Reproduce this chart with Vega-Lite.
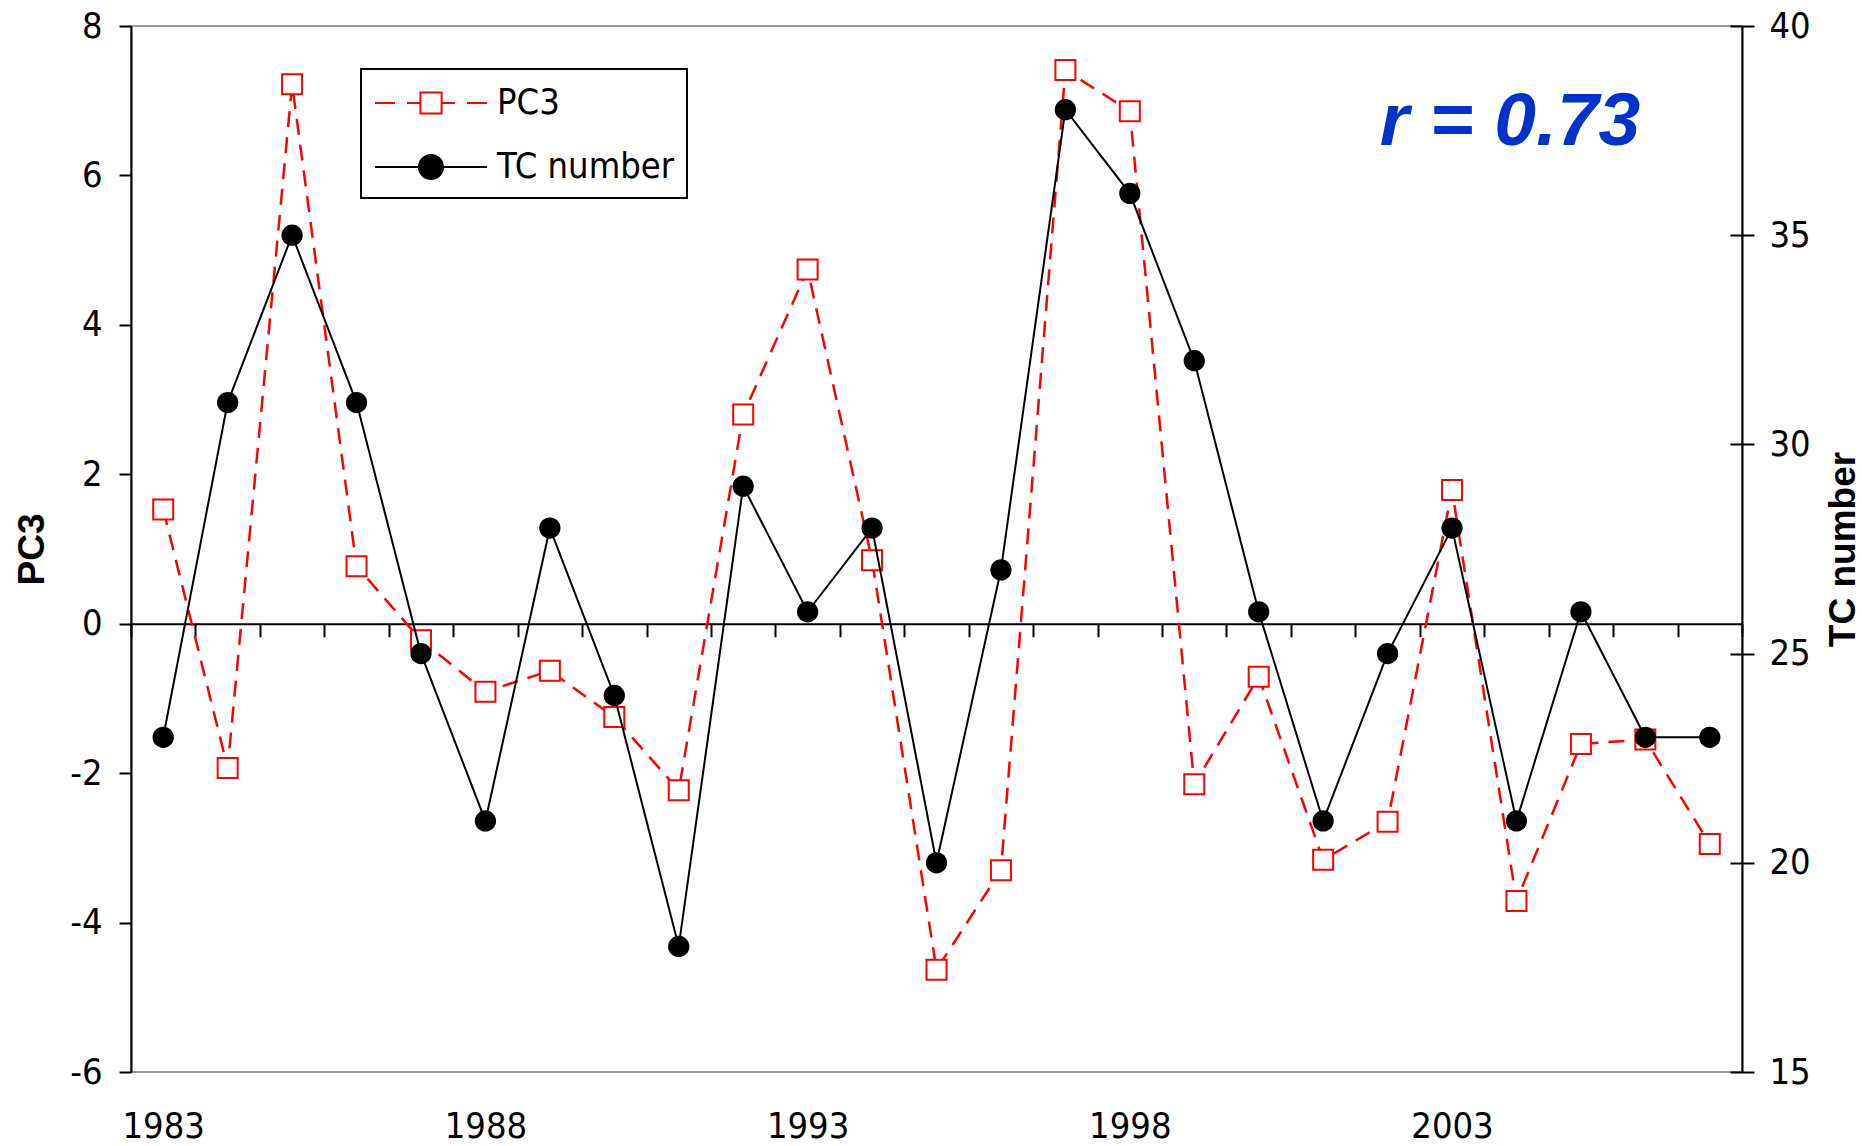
{
  "$schema": "https://vega.github.io/schema/vega-lite/v6.json",
  "autosize": {"type": "none"},
  "padding": {"left": 131, "top": 26, "right": 120, "bottom": 74},
  "width": 1611,
  "height": 1046,
  "background": "white",
  "config": {
    "view": {"stroke": "#999999", "strokeWidth": 2},
    "font": "Liberation Sans",
    "axis": {
      "labelFont": "Liberation Sans Narrow, DejaVu Sans Condensed, Liberation Sans",
      "labelFontSize": 36,
      "labelColor": "black",
      "domainColor": "black",
      "domainWidth": 2,
      "tickColor": "black",
      "tickWidth": 2,
      "grid": false,
      "titleFont": "Liberation Sans",
      "titleFontWeight": "bold",
      "titleFontSize": 37,
      "titleColor": "black"
    },
    "legend": {"strokeWidth": 2}
  },
  "data": {
    "values": [
      {"year": 1983, "PC3": 1.53, "TC number": 23},
      {"year": 1984, "PC3": -1.93, "TC number": 31},
      {"year": 1985, "PC3": 7.22, "TC number": 35},
      {"year": 1986, "PC3": 0.77, "TC number": 31},
      {"year": 1987, "PC3": -0.22, "TC number": 25},
      {"year": 1988, "PC3": -0.91, "TC number": 21},
      {"year": 1989, "PC3": -0.63, "TC number": 28},
      {"year": 1990, "PC3": -1.25, "TC number": 24},
      {"year": 1991, "PC3": -2.23, "TC number": 18},
      {"year": 1992, "PC3": 2.8, "TC number": 29},
      {"year": 1993, "PC3": 4.74, "TC number": 26},
      {"year": 1994, "PC3": 0.85, "TC number": 28},
      {"year": 1995, "PC3": -4.63, "TC number": 20},
      {"year": 1996, "PC3": -3.3, "TC number": 27},
      {"year": 1997, "PC3": 7.41, "TC number": 38},
      {"year": 1998, "PC3": 6.86, "TC number": 36},
      {"year": 1999, "PC3": -2.15, "TC number": 32},
      {"year": 2000, "PC3": -0.71, "TC number": 26},
      {"year": 2001, "PC3": -3.16, "TC number": 21},
      {"year": 2002, "PC3": -2.65, "TC number": 25},
      {"year": 2003, "PC3": 1.79, "TC number": 28},
      {"year": 2004, "PC3": -3.71, "TC number": 21},
      {"year": 2005, "PC3": -1.61, "TC number": 26},
      {"year": 2006, "PC3": -1.55, "TC number": 23},
      {"year": 2007, "PC3": -2.95, "TC number": 23}
    ]
  },
  "layer": [
    {
      "mark": {"type": "line", "color": "#FF0000", "strokeWidth": 2.5, "strokeDash": [16, 10]},
      "encoding": {
        "x": {
          "field": "year", "type": "quantitative",
          "scale": {"domain": [1982.5, 2007.5], "nice": false, "zero": false},
          "axis": {
            "orient": "bottom", "title": null, "domain": false, "ticks": false, "tickSize": 0,
            "values": [1983, 1988, 1993, 1998, 2003], "format": "d",
            "labelPadding": 37, "labelBaseline": "top"
          }
        },
        "y": {
          "field": "PC3", "type": "quantitative",
          "scale": {"domain": [-6, 8], "nice": false, "zero": false},
          "axis": {
            "orient": "left", "title": "PC3", "values": [-6, -4, -2, 0, 2, 4, 6, 8],
            "labelExpr": "'' + datum.value", "tickSize": 12, "labelPadding": 17,
            "titlePadding": 18
          }
        }
      }
    },
    {
      "mark": {"type": "point", "shape": "square", "size": 400, "filled": true, "fill": "white", "stroke": "#FF0000", "strokeWidth": 2, "opacity": 1},
      "encoding": {
        "x": {"field": "year", "type": "quantitative", "scale": {"domain": [1982.5, 2007.5], "nice": false, "zero": false}, "axis": null},
        "y": {"field": "PC3", "type": "quantitative", "scale": {"domain": [-6, 8], "nice": false, "zero": false}, "axis": null}
      }
    },
    {
      "transform": [{"fold": ["PC3", "TC number"]}],
      "mark": {"type": "point", "opacity": 0},
      "encoding": {
        "x": {"field": "year", "type": "quantitative", "scale": {"domain": [1982.5, 2007.5], "nice": false, "zero": false}, "axis": null},
        "y": {"field": "PC3", "type": "quantitative", "scale": {"domain": [-6, 8], "nice": false, "zero": false}, "axis": null},
        "shape": {
          "field": "key", "type": "nominal",
          "scale": {
            "domain": ["PC3", "TC number"],
            "range": [
              "M-2.8,0H-1.8M-1.2,0H-0.53M-0.53,-0.53H0.53V0.53H-0.53ZM0.53,0H1.2M1.8,0H2.8",
              "M-2.8,0H2.8M-0.6,0A0.6,0.6,0,1,0,0.6,0A0.6,0.6,0,1,0,-0.6,0Z"
            ]
          },
          "legend": {
            "title": null, "orient": "none", "legendX": 230, "legendY": 43, "direction": "vertical",
            "strokeColor": "black", "fillColor": "white", "padding": 13,
            "labelFont": "Liberation Sans Narrow, DejaVu Sans Condensed, Liberation Sans", "labelFontSize": 36, "labelColor": "black",
            "symbolSize": 1600, "symbolStrokeWidth": 2, "symbolOffset": 36, "labelOffset": 45,
            "rowPadding": 25, "symbolOpacity": 1, "labelLimit": 400
          }
        },
        "fill": {
          "field": "key", "type": "nominal",
          "scale": {"domain": ["PC3", "TC number"], "range": ["white", "black"]},
          "legend": {
            "title": null, "orient": "none", "legendX": 230, "legendY": 43, "direction": "vertical",
            "strokeColor": "black", "fillColor": "white", "padding": 13,
            "labelFont": "Liberation Sans Narrow, DejaVu Sans Condensed, Liberation Sans", "labelFontSize": 36, "labelColor": "black",
            "symbolSize": 1600, "symbolStrokeWidth": 2, "symbolOffset": 36, "labelOffset": 45,
            "rowPadding": 25, "symbolOpacity": 1, "labelLimit": 400
          }
        },
        "stroke": {
          "field": "key", "type": "nominal",
          "scale": {"domain": ["PC3", "TC number"], "range": ["#FF0000", "black"]},
          "legend": {
            "title": null, "orient": "none", "legendX": 230, "legendY": 43, "direction": "vertical",
            "strokeColor": "black", "fillColor": "white", "padding": 13,
            "labelFont": "Liberation Sans Narrow, DejaVu Sans Condensed, Liberation Sans", "labelFontSize": 36, "labelColor": "black",
            "symbolSize": 1600, "symbolStrokeWidth": 2, "symbolOffset": 36, "labelOffset": 45,
            "rowPadding": 25, "symbolOpacity": 1, "labelLimit": 400
          }
        }
      }
    },
    {
      "data": {"values": [{"label": "r = 0.73"}]},
      "mark": {"type": "text", "font": "Liberation Sans", "fontSize": 75, "fontWeight": "bold", "fontStyle": "italic", "color": "#0033CC", "align": "center", "baseline": "alphabetic"},
      "encoding": {
        "x": {"datum": 2003.9, "type": "quantitative", "scale": {"domain": [1982.5, 2007.5], "nice": false, "zero": false}, "axis": null},
        "y": {"datum": 6.41, "type": "quantitative", "scale": {"domain": [-6, 8], "nice": false, "zero": false}, "axis": null},
        "text": {"field": "label"}
      }
    },
    {
      "mark": {"type": "line", "color": "black", "strokeWidth": 2},
      "encoding": {
        "x": {
          "field": "year", "type": "quantitative",
          "scale": {"domain": [1982.5, 2007.5], "nice": false, "zero": false},
          "axis": {
            "orient": "bottom", "title": null, "labels": false, "domain": true, "ticks": true,
            "tickSize": 13, "offset": -448.3,
            "values": [1982.5, 1983.5, 1984.5, 1985.5, 1986.5, 1987.5, 1988.5, 1989.5, 1990.5, 1991.5, 1992.5, 1993.5, 1994.5, 1995.5, 1996.5, 1997.5, 1998.5, 1999.5, 2000.5, 2001.5, 2002.5, 2003.5, 2004.5, 2005.5, 2006.5, 2007.5]
          }
        },
        "y": {
          "field": "TC number", "type": "quantitative",
          "scale": {"domain": [15, 40], "nice": false, "zero": false},
          "axis": {
            "orient": "right", "title": "TC number", "values": [15, 20, 25, 30, 35, 40],
            "tickSize": 12, "labelPadding": 15, "titleAngle": -90, "titleBaseline": "top", "titlePadding": 15
          }
        }
      }
    },
    {
      "mark": {"type": "point", "shape": "circle", "size": 452, "filled": true, "color": "black", "opacity": 1},
      "encoding": {
        "x": {"field": "year", "type": "quantitative", "scale": {"domain": [1982.5, 2007.5], "nice": false, "zero": false}, "axis": null},
        "y": {
          "field": "TC number", "type": "quantitative",
          "scale": {"domain": [15, 40], "nice": false, "zero": false},
          "axis": {
            "orient": "right", "title": null, "labels": false, "domain": false, "ticks": true,
            "tickSize": -12, "values": [15, 20, 25, 30, 35, 40]
          }
        }
      }
    }
  ],
  "resolve": {"scale": {"y": "independent"}, "axis": {"y": "independent", "x": "independent"}}
}
